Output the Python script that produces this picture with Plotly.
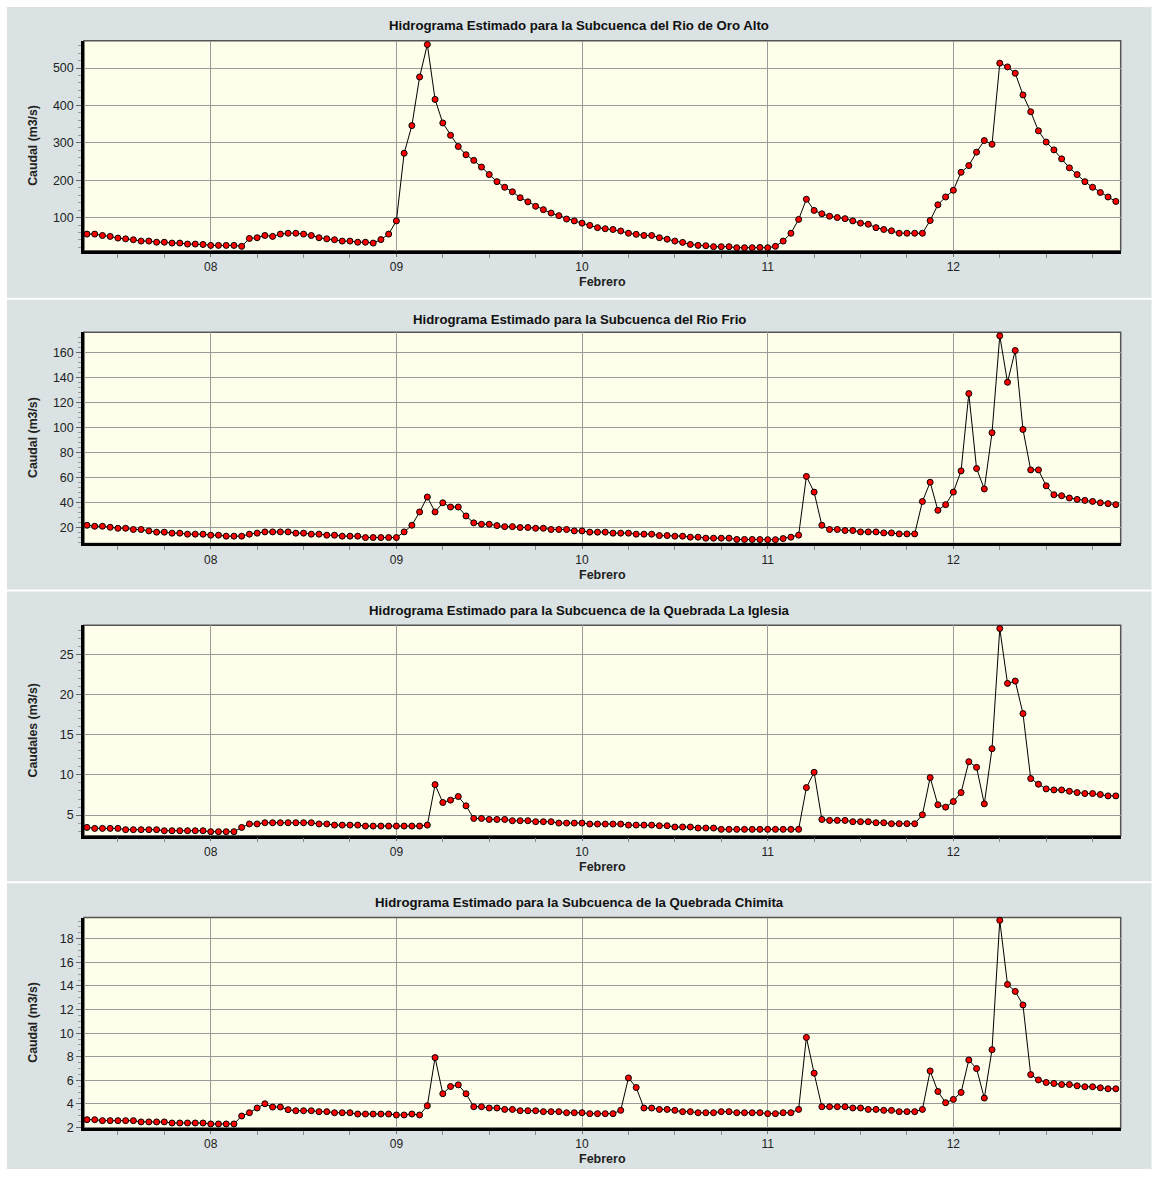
import pandas as pd
import plotly.graph_objects as go

# ---------------- data (hourly, starting 07 Feb 08:00) ----------------
START = "2011-02-07 08:00"

TITLES = [
    "Hidrograma Estimado para la Subcuenca del Rio de Oro Alto",
    "Hidrograma Estimado para la Subcuenca del Rio Frio",
    "Hidrograma Estimado para la Subcuenca de la Quebrada La Iglesia",
    "Hidrograma Estimado para la Subcuenca de la Quebrada Chimita",
]
Y_TITLES = ["Caudal (m3/s)", "Caudal (m3/s)", "Caudales (m3/s)", "Caudal (m3/s)"]
X_TITLE = "Febrero"

oro_alto = [
    55.7, 55.7, 52, 49.5, 45, 43, 40.6, 37, 37, 34, 34, 31.7, 31.7, 29, 29, 28,
    25.5, 25.5, 25.5, 25.5, 23, 44, 46, 52, 49.5, 55.7, 58, 58, 55.7, 52, 46, 43,
    40.6, 37, 37, 34, 34, 31.7, 41, 55.7,
    91, 272, 346, 476, 563, 416, 353, 320, 290, 268, 253, 235, 215, 196, 181, 169,
    153, 142, 130, 121, 112, 105, 96, 91,
    85, 79, 73, 70, 68, 64, 58, 55, 52, 52, 46, 42, 37, 33.5, 28, 25.5, 24.6, 22,
    22, 22, 19.3, 19.3, 19.3, 20,
    19.3, 23, 37, 58, 95, 149, 119, 110, 103.5, 100, 97, 91, 85, 82, 73, 68, 64.5,
    58, 58, 58, 58, 92, 134, 155,
    173, 221, 239, 275, 306, 296, 513, 503, 486, 428, 383, 332, 302, 281, 257, 233,
    215, 196, 181, 167, 155, 143,
]

rio_frio = [
    22.1, 21.3, 21.3, 20.5, 19.7, 19.7, 18.7, 18.7, 17.6, 16.6, 16.6, 15.8, 15.8, 15, 15, 15,
    14.2, 14.2, 13.4, 13.4, 13.4, 15, 15.8, 16.8, 16.8, 16.8, 16.8, 15.8, 15.8, 15, 15, 14.2,
    14.2, 13.4, 13.4, 13.4, 12.3, 12.3, 12.3, 12.3,
    12.3, 16.8, 22.1, 32.7, 44.6, 32.7, 40, 36.6, 36.6, 29.5, 24, 22.9, 22.9, 21.8, 21, 21,
    20.3, 20.3, 19.7, 19.7, 18.7, 18.7, 18.7, 17.6,
    17.6, 16.6, 16.6, 16.6, 15.8, 15.8, 15.8, 15, 15, 15, 13.9, 13.9, 13.4, 13.4, 12.6, 12.6,
    11.8, 11.8, 11.8, 11.8, 10.8, 10.8, 10.8, 10.7,
    10.6, 10.6, 11.5, 12.6, 14.2, 61, 48.5, 22.1, 18.7, 18.7, 17.9, 17.9, 16.8, 16.8, 16.8, 16,
    16, 15.2, 15.2, 15.2, 41, 56.4, 34, 38.5,
    48.5, 65.4, 127, 67.3, 51, 95.8, 173, 136, 161.3, 98.4, 66.2, 66.2, 53.5, 46.4, 45.6, 43.8,
    42.7, 41.9, 41.1, 40, 39.3, 38.5,
]

la_iglesia = [
    3.47, 3.35, 3.35, 3.35, 3.35, 3.19, 3.19, 3.19, 3.19, 3.19, 3.06, 3.06, 3.06, 3.06, 3.06, 3.06,
    2.94, 2.94, 2.94, 2.94, 3.47, 3.9, 3.9, 4.05, 4.05, 4.05, 4.05, 4.05, 4.05, 4.05, 3.9, 3.9,
    3.76, 3.76, 3.76, 3.76, 3.64, 3.64, 3.64, 3.64,
    3.64, 3.64, 3.64, 3.64, 3.76, 8.79, 6.57, 6.86, 7.31, 6.15, 4.59, 4.59, 4.46, 4.46, 4.46, 4.3,
    4.3, 4.3, 4.18, 4.18, 4.18, 4.01, 4.01, 4.01,
    4.01, 3.89, 3.89, 3.89, 3.89, 3.89, 3.76, 3.76, 3.76, 3.76, 3.68, 3.68, 3.52, 3.52, 3.52, 3.39,
    3.39, 3.39, 3.23, 3.23, 3.23, 3.23, 3.23, 3.23,
    3.23, 3.23, 3.23, 3.23, 3.23, 8.42, 10.32, 4.46, 4.34, 4.34, 4.34, 4.18, 4.18, 4.18, 4.05, 4.05,
    3.93, 3.93, 3.93, 3.93, 5.04, 9.66, 6.28, 5.99,
    6.69, 7.8, 11.64, 10.94, 6.4, 13.25, 28.2, 21.37, 21.66, 17.62, 9.54, 8.84, 8.26, 8.13, 8.13, 7.97,
    7.8, 7.68, 7.68, 7.56, 7.39, 7.39,
]

chimita = [
    2.67, 2.67, 2.59, 2.59, 2.59, 2.59, 2.59, 2.48, 2.48, 2.48, 2.48, 2.39, 2.39, 2.39, 2.39, 2.39,
    2.31, 2.31, 2.31, 2.31, 2.98, 3.26, 3.66, 4.02, 3.74, 3.74, 3.52, 3.43, 3.43, 3.43, 3.35, 3.35,
    3.26, 3.26, 3.26, 3.15, 3.15, 3.15, 3.15, 3.15,
    3.07, 3.07, 3.15, 3.07, 3.85, 7.93, 4.87, 5.48, 5.62, 4.87, 3.77, 3.77, 3.66, 3.66, 3.54, 3.54,
    3.43, 3.43, 3.43, 3.35, 3.35, 3.35, 3.26, 3.26,
    3.26, 3.18, 3.18, 3.18, 3.18, 3.46, 6.21, 5.4, 3.66, 3.66, 3.54, 3.54, 3.46, 3.35, 3.35, 3.26,
    3.26, 3.26, 3.35, 3.35, 3.26, 3.26, 3.26, 3.26,
    3.18, 3.18, 3.26, 3.26, 3.54, 9.64, 6.61, 3.77, 3.77, 3.77, 3.77, 3.66, 3.66, 3.54, 3.54, 3.46,
    3.46, 3.35, 3.35, 3.35, 3.54, 6.8, 5.06, 4.11,
    4.39, 4.98, 7.73, 7.0, 4.5, 8.6, 19.56, 14.13, 13.54, 12.39, 6.49, 6.04, 5.82, 5.74, 5.65, 5.65,
    5.54, 5.46, 5.46, 5.37, 5.29, 5.29,
]

SERIES = [oro_alto, rio_frio, la_iglesia, chimita]
Y_RANGES = [[11, 573], [7.6, 175.8], [2.44, 28.6], [1.97, 19.8]]
Y_DTICKS = [100, 20, 5, 2]
Y_TICK0 = [0, 0, 0, 0]
Y_MINOR = [20, 4, 1, 0.5]
X_RANGE = ["2011-02-07 07:37", "2011-02-12 21:38"]

# ---------------- layout geometry (pixels) ----------------
W, H = 1153, 1177
PLOT_X = (84, 1120.7)
PLOT_Y = [(41, 252.3), (334.3, 546.7), (629, 840.7), (923, 1134.7)]
PANEL_Y = [(7, 299.5), (301.5, 593), (595, 886.5), (888.5, 1176)]
TITLE_Y = [26, 321, 614, 908]
XTITLE_Y = [284, 578, 872, 1166]

BG_GRAY = "#DAE2E3"
PLOT_BG = "#FEFEEA"
GRID = "#9A9A9A"
TXT = "#222222"


def px(x):
    return x / W


def py(y):
    return 1 - y / H


fig = go.Figure()
layout = dict(
    width=W, height=H,
    margin=dict(l=0, r=0, t=0, b=0),
    paper_bgcolor="white",
    plot_bgcolor=PLOT_BG,
    showlegend=False,
    font=dict(family="Liberation Sans, Arial, sans-serif", size=12, color=TXT),
)
bg_shapes = []
plot_shapes = []
frame_shapes = []
annotations = []

for i, vals in enumerate(SERIES):
    n = i + 1
    xs = "" if n == 1 else str(n)
    times = pd.date_range(START, periods=len(vals), freq="h")
    fig.add_trace(go.Scatter(
        x=times, y=vals, mode="lines+markers",
        xaxis="x" + xs, yaxis="y" + xs,
        line=dict(color="black", width=1),
        marker=dict(size=6, color="#FF0000", line=dict(color="black", width=1)),
        cliponaxis=False,
    ))
    y0, y1 = PLOT_Y[i]
    layout["xaxis" + xs] = dict(
        domain=[px(PLOT_X[0]), px(PLOT_X[1])],
        anchor="y" + xs,
        type="date",
        range=X_RANGE,
        tick0="2011-02-08", dtick=86400000, tickformat="%d",
        showgrid=True, gridcolor=GRID, gridwidth=1,
        showline=True, linecolor="black", linewidth=2.5,
        ticks="outside", ticklen=3, tickcolor="#777777",
        minor=dict(dtick=6 * 3600000, ticks="outside", ticklen=4,
                   tickcolor="#888888", showgrid=False),
        zeroline=False,
        tickfont=dict(size=12, color=TXT),
    )
    layout["yaxis" + xs] = dict(
        domain=[py(y1), py(y0)],
        anchor="x" + xs,
        range=Y_RANGES[i],
        tick0=Y_TICK0[i], dtick=Y_DTICKS[i],
        showgrid=True, gridcolor=GRID, gridwidth=1,
        showline=True, linecolor="black", linewidth=2.5,
        ticks="outside", ticklen=5, tickcolor="#666666",
        minor=dict(dtick=Y_MINOR[i], ticks="outside", ticklen=3,
                   tickcolor="#999999", showgrid=False),
        zeroline=False,
        tickfont=dict(size=12.5, color=TXT),
    )
    # gray panel background
    bg_shapes.append(dict(type="rect", xref="paper", yref="paper", layer="below",
                          x0=px(7), x1=px(1151.5),
                          y0=py(PANEL_Y[i][1]), y1=py(PANEL_Y[i][0]),
                          fillcolor=BG_GRAY, line=dict(width=0)))
    # light yellow plot area
    plot_shapes.append(dict(type="rect", xref="x" + xs + " domain", yref="y" + xs + " domain",
                            x0=0, x1=1, y0=0, y1=1, layer="below",
                            fillcolor=PLOT_BG, line=dict(width=0)))
    # thin frame around plot area (top/right)
    frame_shapes.append(dict(type="rect", xref="x" + xs + " domain", yref="y" + xs + " domain",
                             x0=0, x1=1, y0=0, y1=1, layer="below",
                             line=dict(color="#555555", width=1.5)))
    annotations.append(dict(text="<b>" + TITLES[i] + "</b>", xref="paper", yref="paper",
                            x=px(579), y=py(TITLE_Y[i]), showarrow=False,
                            xanchor="center", yanchor="middle",
                            font=dict(size=13.2, color="#111111")))
    annotations.append(dict(text="<b>" + X_TITLE + "</b>", xref="paper", yref="paper",
                            x=px((PLOT_X[0] + PLOT_X[1]) / 2), y=py(XTITLE_Y[i]),
                            showarrow=False, xanchor="center", yanchor="middle",
                            font=dict(size=12.5, color=TXT)))
    annotations.append(dict(text="<b>" + Y_TITLES[i] + "</b>", xref="paper", yref="paper",
                            x=px(33), y=py((y0 + y1) / 2), textangle=-90,
                            showarrow=False, xanchor="center", yanchor="middle",
                            font=dict(size=12.3, color=TXT)))

layout["shapes"] = bg_shapes + plot_shapes + frame_shapes
layout["annotations"] = annotations
fig.update_layout(**layout)
fig.write_html("out.html")
